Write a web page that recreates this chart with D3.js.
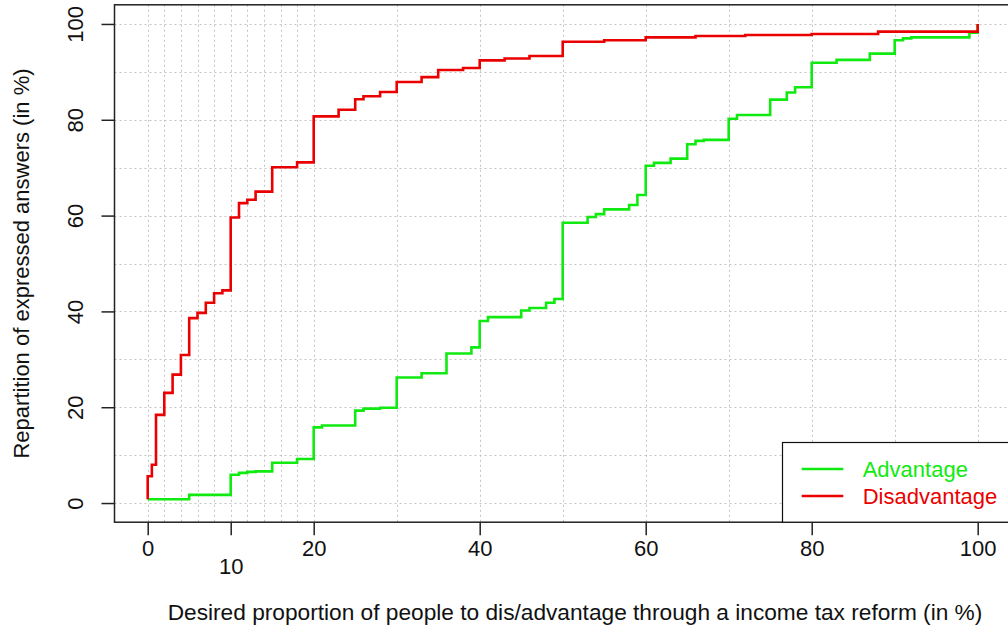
<!DOCTYPE html>
<html>
<head>
<meta charset="utf-8">
<script src="https://cdn.jsdelivr.net/npm/d3@7"></script>
<style>
  body { margin: 0; background: #fff; }
  svg { display: block; }
</style>
</head>
<body>
<svg id="chart" width="1008" height="634"></svg>
<script>
// Cumulative share of answers (in %) against the desired proportion (in %)
const advantageX = [0, 5, 10, 11, 12, 13, 15, 18, 20, 21, 25, 26, 28, 30, 33, 36, 39, 40, 41, 45, 46, 48, 49,
                    50, 53, 54, 55, 58, 59, 60, 61, 63, 65, 66, 67, 70, 71, 75, 77, 78, 80, 83, 87, 90, 91, 92, 99, 100];
const advantageY = [0.8, 1.7, 5.9, 6.3, 6.5, 6.6, 8.4, 9.2, 15.8, 16.2, 19.3, 19.7, 19.9, 26.2, 27.1, 31.2, 32.5, 38.0, 38.8, 40.2, 40.7, 41.8, 42.6,
                    58.5, 59.7, 60.3, 61.3, 62.2, 64.3, 70.4, 71.0, 71.9, 74.9, 75.6, 75.8, 80.2, 81.0, 84.2, 85.7, 86.8, 91.9, 92.5, 93.8, 96.6, 97.0, 97.2, 98.2, 100];

const disadvantageX = [0, 0, 0.5, 1, 2, 3, 4, 5, 6, 7, 8, 9, 10, 11, 12, 13, 15, 18, 20, 23, 25, 26, 28, 30, 33, 35, 38,
                       40, 43, 46, 50, 55, 60, 66, 72, 80, 88, 100];
const disadvantageY = [0.8, 5.6, 8.0, 18.4, 23.0, 26.8, 30.9, 38.6, 39.7, 41.8, 43.8, 44.4, 59.6, 62.6, 63.3, 65.0, 70.1, 71.1, 80.7, 82.1, 84.3, 84.9, 85.8, 87.9, 88.9, 90.4, 90.8,
                       92.4, 92.8, 93.3, 96.3, 96.6, 97.2, 97.5, 97.7, 97.9, 98.4, 100];

const seriesNames = ["Advantage", "Disadvantage"];
const seriesColors = ["#10ea10", "#ea0000"];

const xTickValues = [0, 20, 40, 60, 80, 100];
const xLowTickValues = [10];
const yTickValues = [0, 20, 40, 60, 80, 100];
const xGridValues = [0, 2, 4, 6, 8, 10, 12, 14, 16, 18, 20, 30, 40, 50, 60, 70, 80, 90, 100];
const yGridValues = [0, 10, 20, 30, 40, 50, 60, 70, 80, 90, 100];

const xTitle = "Desired proportion of people to dis/advantage through a income tax reform (in %)";
const yTitle = "Repartition of expressed answers (in %)";

const FONT = "'Liberation Sans', Arial, Helvetica, sans-serif";
const svg = d3.select("#chart");

const plotLeft = 114.5, plotRight = 1010.9, plotTop = 4.8, plotBottom = 522.2;
const x = d3.scaleLinear().domain([-4, 104]).range([plotLeft, plotRight]);
const y = d3.scaleLinear().domain([-4, 104]).range([plotBottom, plotTop]);

svg.append("rect").attr("width", 1008).attr("height", 634).attr("fill", "#fff");

// dotted background grid
const grid = svg.append("g").attr("stroke", "#c4c4c4").attr("stroke-width", 1).attr("stroke-dasharray", "2,3");
grid.selectAll("line.v").data(xGridValues).join("line").attr("class", "v")
  .attr("x1", d => Math.round(x(d)) + 0.5).attr("x2", d => Math.round(x(d)) + 0.5)
  .attr("y1", plotTop).attr("y2", plotBottom);
grid.selectAll("line.h").data(yGridValues).join("line").attr("class", "h")
  .attr("y1", d => Math.round(y(d)) + 0.5).attr("y2", d => Math.round(y(d)) + 0.5)
  .attr("x1", plotLeft).attr("x2", plotRight);

// step curves
svg.append("clipPath").attr("id", "plotclip").append("rect")
  .attr("x", plotLeft).attr("y", plotTop).attr("width", plotRight - plotLeft).attr("height", plotBottom - plotTop);

const stepLine = d3.line().x(d => x(d[0])).y(d => y(d[1])).curve(d3.curveStepAfter);
const series = [
  d3.zip(advantageX, advantageY),
  d3.zip(disadvantageX, disadvantageY)
];
svg.append("g").attr("clip-path", "url(#plotclip)")
  .selectAll("path").data(series).join("path")
  .attr("d", stepLine)
  .attr("fill", "none")
  .attr("stroke", (d, i) => seriesColors[i])
  .attr("stroke-width", 2.6)
  .attr("stroke-linejoin", "miter");

// axes
const xAxis = svg.append("g").attr("transform", `translate(0,${plotBottom})`)
  .call(d3.axisBottom(x).tickValues(xTickValues).tickSize(13).tickPadding(5).tickFormat(d3.format("d")));
const xAxisLow = svg.append("g").attr("transform", `translate(0,${plotBottom})`)
  .call(d3.axisBottom(x).tickValues(xLowTickValues).tickSize(13).tickPadding(23).tickFormat(d3.format("d")));
const yAxis = svg.append("g").attr("transform", `translate(${plotLeft},0)`)
  .call(d3.axisLeft(y).tickValues(yTickValues).tickSize(13).tickFormat(d3.format("d")));

[xAxis, xAxisLow, yAxis].forEach(g => {
  g.select(".domain").remove();
  g.selectAll(".tick line").attr("stroke", "#222").attr("stroke-width", 1.5);
  g.selectAll(".tick text").attr("fill", "#111").attr("font-size", 22).attr("font-family", FONT);
});
yAxis.selectAll(".tick text")
  .attr("x", null).attr("dy", null)
  .attr("text-anchor", "middle")
  .attr("transform", "translate(-31.5,0) rotate(-90)");

// plot frame
svg.append("rect").attr("x", plotLeft).attr("y", plotTop)
  .attr("width", plotRight - plotLeft).attr("height", plotBottom - plotTop)
  .attr("fill", "none").attr("stroke", "#222").attr("stroke-width", 1.5);

// axis titles
svg.append("text").attr("x", 575).attr("y", 620)
  .attr("text-anchor", "middle").attr("font-size", 22.7).attr("font-family", FONT).attr("fill", "#111")
  .text(xTitle);
svg.append("text").attr("transform", `translate(29,${(plotTop + plotBottom) / 2}) rotate(-90)`)
  .attr("text-anchor", "middle").attr("font-size", 22).attr("font-family", FONT).attr("fill", "#111")
  .text(yTitle);

// legend
const legend = svg.append("g");
legend.append("rect").attr("x", 782.5).attr("y", 442.5).attr("width", 300).attr("height", plotBottom - 442.5)
  .attr("fill", "#fff").attr("stroke", "#111").attr("stroke-width", 1.2);
const items = legend.selectAll("g.item").data(seriesNames).join("g").attr("class", "item")
  .attr("transform", (d, i) => `translate(0,${469 + i * 27})`);
items.append("line").attr("x1", 801.7).attr("x2", 843.3)
  .attr("stroke", (d, i) => seriesColors[i]).attr("stroke-width", 2.6);
items.append("text").attr("x", 862.7).attr("dy", "0.36em")
  .attr("font-size", 22).attr("font-family", FONT)
  .attr("fill", (d, i) => seriesColors[i])
  .text(d => d);
</script>
</body>
</html>
